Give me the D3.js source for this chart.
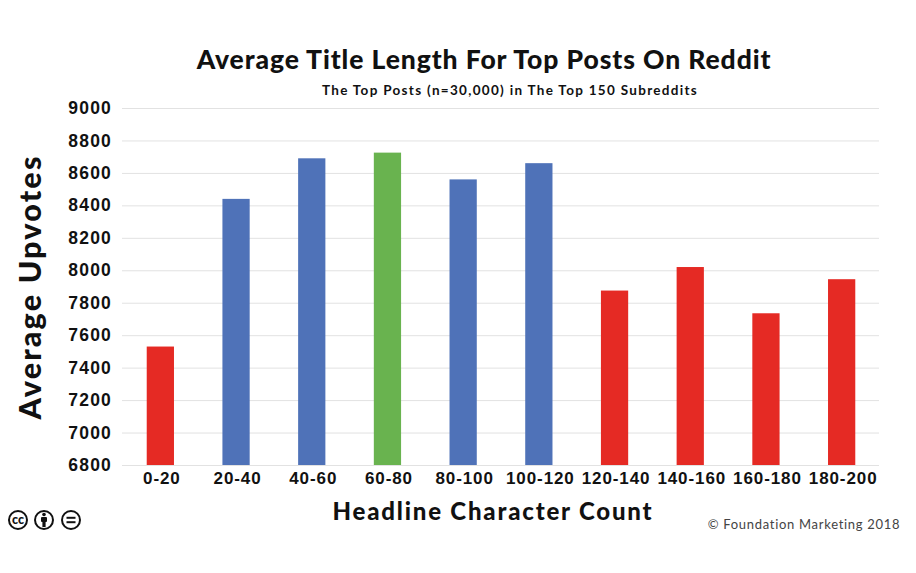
<!DOCTYPE html>
<html><head><meta charset="utf-8">
<script src="https://cdn.jsdelivr.net/npm/d3@7"></script>
<style>html,body{margin:0;background:#fff}svg{display:block}text{font-family:Lato,"Open Sans",sans-serif;fill:#111}</style>
</head><body><svg id="c" width="916" height="573"></svg>
<script>
const categories=["0-20","20-40","40-60","60-80","80-100","100-120","120-140","140-160","160-180","180-200"];
const upvotes=[7530,8440,8690,8725,8560,8660,7875,8020,7735,7945];
const groups=["low","mid","mid","best","mid","mid","low","low","low","low"];
const yTicks=[6800,7000,7200,7400,7600,7800,8000,8200,8400,8600,8800,9000];
const groupColors={low:"#e52a24",mid:"#4f72b8",best:"#69b34f"};
const svg=d3.select("#c");
const x=d3.scaleBand().domain(categories).range([122.5,879.5]).paddingInner(0.64).paddingOuter(0.32);
const y=d3.scaleLinear().domain([6800,9000]).range([465,108]);
const yAxis=svg.append("g").attr("transform","translate(122,0)")
 .call(d3.axisLeft(y).tickValues(yTicks).tickSize(-757).tickFormat(d3.format("d")));
yAxis.select(".domain").remove();
yAxis.selectAll("line").attr("stroke","#e2e2e2").attr("stroke-width",1);
yAxis.selectAll("text").attr("x",-10).style("font-family","'Liberation Sans',sans-serif").style("font-size","17.5px").style("font-weight","700").style("letter-spacing","1.2px");
svg.selectAll("rect.bar").data(categories).join("rect").attr("class","bar")
 .attr("x",d=>x(d)).attr("width",x.bandwidth())
 .attr("y",(d,i)=>y(upvotes[i])).attr("height",(d,i)=>y(6800)-y(upvotes[i]))
 .attr("fill",(d,i)=>groupColors[groups[i]]);
const xAxis=svg.append("g").attr("transform","translate(1.5,465)").call(d3.axisBottom(x).tickSize(0).tickPadding(7));
xAxis.select(".domain").remove();
xAxis.selectAll("text").style("font-family","'Liberation Sans',sans-serif").style("font-size","17px").style("font-weight","700").style("letter-spacing","0.9px");
const t=(s,px,py,size,weight,ls,anchor="middle")=>svg.append("text").text(s).attr("x",px).attr("y",py).attr("text-anchor",anchor)
 .style("font-size",size+"px").style("font-weight",weight).style("letter-spacing",ls+"px");
t("Average Title Length For Top Posts On Reddit",484,69,26.5,900,0.9);
t("The Top Posts (n=30,000) in The Top 150 Subreddits",510,95,13.5,700,1.3);
t("Headline Character Count",493,520,24,900,1.8);
t("© Foundation Marketing 2018",804,529,13,400,0.7).style("fill","#444");
svg.append("text").text("Average Upvotes").attr("transform","translate(41,287) rotate(-90)").attr("text-anchor","middle")
 .style("font-size","30.5px").style("font-weight","900").style("letter-spacing","2.2px");
const icons=svg.append("g").attr("fill","none").attr("stroke","#111");
[18,44,71].forEach(cx=>icons.append("circle").attr("cx",cx).attr("cy",520).attr("r",9).attr("stroke-width",2));
svg.append("text").text("cc").attr("x",18).attr("y",524).attr("text-anchor","middle").style("font-size","12.5px").style("font-weight","900");
icons.append("circle").attr("cx",44).attr("cy",514.5).attr("r",1.8).attr("fill","#111").attr("stroke","none");
icons.append("rect").attr("x",41).attr("y",517).attr("width",6).attr("height",5).attr("rx",1).attr("fill","#111").attr("stroke","none");
icons.append("rect").attr("x",42.4).attr("y",521).attr("width",3.2).attr("height",6).attr("fill","#111").attr("stroke","none");
[517.8,522.2].forEach(yy=>icons.append("line").attr("x1",66.5).attr("x2",75.5).attr("y1",yy).attr("y2",yy).attr("stroke-width",2));
</script></body></html>
